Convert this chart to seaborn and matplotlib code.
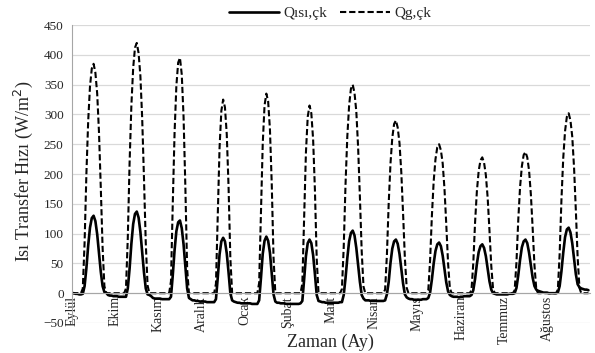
import numpy as np
import pandas as pd
import seaborn as sns
import matplotlib.pyplot as plt

months = ["Eylül", "Ekim", "Kasım", "Aralık", "Ocak", "Şubat",
          "Mart", "Nisan", "Mayıs", "Haziran", "Temmuz", "Ağustos"]

# hourly values (24 per month), W/m2
qisi_cik = [
    0, 0, -1, -1, -2, -2, -1, 12, 42, 80, 110, 126, 130, 121, 99, 67, 36, 12, 2, 1, -3, -4, -4, -5,
    -5, -5, -6, -6, -6, -6, -6, 8, 41, 83, 116, 133, 137, 127, 103, 68, 35, 8, -2, -3, -5, -8, -9, -9,
    -9, -9, -10, -10, -10, -10, -10, -6, 30, 72, 104, 119, 122, 109, 82, 45, 8, -8, -10, -12, -12, -13, -13, -14,
    -14, -14, -14, -15, -15, -15, -15, -15, -10, 26, 65, 87, 93, 87, 67, 35, 0, -12, -14, -15, -16, -16, -17, -17,
    -17, -17, -17, -17, -18, -18, -18, -18, -12, 25, 66, 88, 95, 88, 68, 34, -2, -14, -16, -16, -17, -17, -17, -18,
    -18, -18, -18, -18, -18, -18, -18, -17, -13, 23, 62, 84, 90, 84, 64, 32, -3, -13, -14, -15, -15, -16, -16, -16,
    -16, -16, -16, -16, -16, -15, -15, -3, 25, 59, 87, 101, 105, 97, 76, 47, 19, -3, -9, -12, -12, -12, -13, -13,
    -13, -13, -13, -13, -13, -13, -12, -2, 19, 51, 75, 87, 90, 83, 66, 41, 16, -2, -7, -9, -10, -10, -11, -11,
    -11, -11, -11, -10, -10, -10, -8, 1, 23, 50, 71, 82, 85, 79, 63, 40, 18, 3, -3, -5, -6, -6, -6, -7,
    -6, -6, -5, -5, -5, -5, -3, 5, 24, 49, 69, 79, 82, 76, 62, 41, 20, 6, 0, -1, -2, -2, -2, -2,
    -2, -2, -2, -1, -1, -1, 0, 9, 30, 56, 77, 87, 90, 84, 68, 47, 26, 12, 6, 4, 3, 2, 1, 1,
    1, 0, 0, 0, 0, 0, 1, 12, 37, 68, 94, 107, 110, 102, 84, 58, 32, 15, 10, 8, 7, 6, 6, 5,
]

qg_cik = [
    0, 0, 0, 0, 0, 0, 8, 85, 200, 289, 347, 377, 385, 370, 335, 270, 177, 77, 12, 0, 0, 0, 0, 0,
    0, 0, 0, 0, 0, 0, 8, 92, 218, 315, 378, 412, 420, 403, 365, 294, 193, 84, 13, 0, 0, 0, 0, 0,
    0, 0, 0, 0, 0, 0, 0, 20, 150, 269, 348, 387, 395, 367, 296, 178, 40, 0, 0, 0, 0, 0, 0, 0,
    0, 0, 0, 0, 0, 0, 0, 0, 16, 130, 244, 306, 325, 312, 267, 179, 59, 0, 0, 0, 0, 0, 0, 0,
    0, 0, 0, 0, 0, 0, 0, 0, 17, 134, 251, 315, 335, 322, 275, 184, 60, 0, 0, 0, 0, 0, 0, 0,
    0, 0, 0, 0, 0, 0, 0, 0, 16, 126, 236, 296, 315, 302, 258, 173, 57, 0, 0, 0, 0, 0, 0, 0,
    0, 0, 0, 0, 0, 0, 7, 77, 182, 263, 315, 343, 350, 336, 305, 245, 161, 70, 11, 0, 0, 0, 0, 0,
    0, 0, 0, 0, 0, 0, 6, 64, 151, 218, 261, 284, 290, 278, 252, 203, 133, 58, 9, 0, 0, 0, 0, 0,
    0, 0, 0, 0, 0, 0, 5, 55, 130, 188, 225, 245, 250, 240, 218, 175, 115, 50, 8, 0, 0, 0, 0, 0,
    0, 0, 0, 0, 0, 0, 5, 50, 119, 171, 205, 223, 228, 219, 198, 160, 105, 46, 7, 0, 0, 0, 0, 0,
    0, 0, 0, 0, 0, 0, 5, 52, 123, 178, 213, 232, 237, 228, 206, 166, 109, 47, 7, 0, 0, 0, 0, 0,
    0, 0, 0, 0, 0, 0, 6, 66, 157, 227, 272, 296, 302, 290, 263, 211, 139, 60, 9, 0, 0, 0, 0, 0,
]

lbl_isi = "Qısı,çk"
lbl_g = "Qg,çk"

hours = np.arange(len(qisi_cik))
df = pd.DataFrame({
    "saat": np.concatenate([hours, hours]),
    "q": qisi_cik + qg_cik,
    "seri": [lbl_isi] * len(qisi_cik) + [lbl_g] * len(qg_cik),
})

sns.set_style("white")
plt.rcParams["font.family"] = ["Liberation Serif", "DejaVu Serif"]

fig, ax = plt.subplots(figsize=(5.95, 3.53), dpi=100)
fig.subplots_adjust(left=0.121, right=0.992, top=0.929, bottom=0.085)

sns.lineplot(data=df, x="saat", y="q", hue="seri", style="seri",
             palette=["black", "black"], dashes={lbl_isi: "", lbl_g: (3, 1.4)},
             linewidth=1.5, legend=False, ax=ax)
ax.lines[0].set_linewidth(1.9)

ax.set_xlim(0, 288)
ax.set_ylim(-50, 450)
ax.set_yticks(np.arange(-50, 451, 50))
ax.yaxis.grid(True, color="#d9d9d9", linewidth=0.9)
ax.set_axisbelow(True)

for s in ["top", "right"]:
    ax.spines[s].set_visible(False)
ax.spines["left"].set_color("#a6a6a6")
ax.spines["bottom"].set_color("#a6a6a6")
ax.spines["bottom"].set_position(("data", 0))

ax.set_xticks(np.arange(0, 288, 24))
ax.set_xticklabels(months, rotation=90, va="top", ha="center", fontsize=10)
ax.tick_params(axis="x", length=0, pad=2)
ax.tick_params(axis="y", length=4, color="#a6a6a6", labelsize=9.5, pad=2)
ax.set_xlabel("")
ax.set_ylabel("")

fig.text(0.04, 1 - 171 / 353, "Isı Transfer Hızı (W/m$^2$)", rotation=90,
         ha="center", va="center", fontsize=13)
fig.text(330 / 595, 1 - 342 / 353, "Zaman (Ay)", ha="center", va="center", fontsize=13)

handles = [ax.lines[0], ax.lines[1]]
fig.legend(handles, [lbl_isi, lbl_g], loc="center", bbox_to_anchor=(0.555, 0.962),
           ncol=2, frameon=False, fontsize=11, handlelength=3.3,
           handletextpad=0.3, columnspacing=0.8)

plt.savefig("out.png", dpi=100)
